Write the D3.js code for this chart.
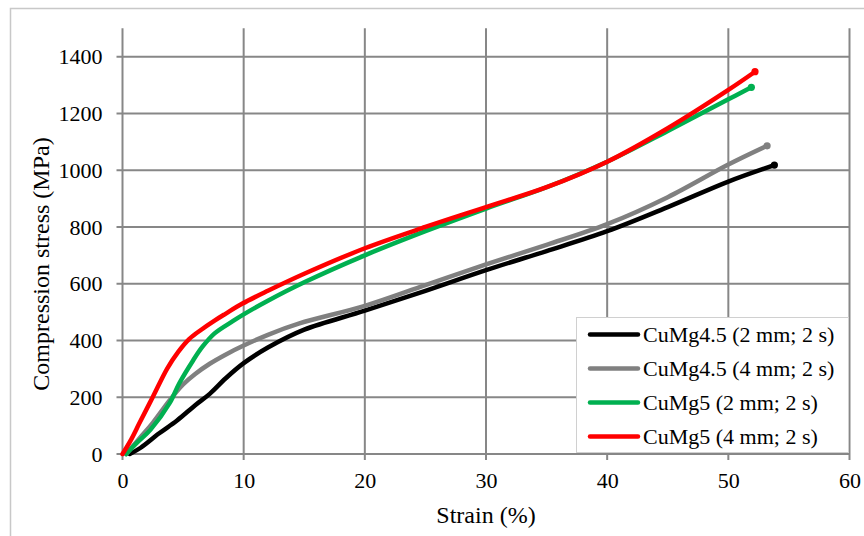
<!DOCTYPE html>
<html>
<head>
<meta charset="utf-8">
<script src="https://cdn.jsdelivr.net/npm/d3@7"></script>
<style>
  html, body { margin: 0; padding: 0; background: #fff; }
  svg { display: block; }
  text { font-family: "Liberation Serif", "Times New Roman", serif; fill: #000; }
</style>
</head>
<body>
<svg id="chart" width="864" height="536"></svg>
<script>
// ---- Data ----
const seriesNames = ["CuMg4.5 (2 mm; 2 s)", "CuMg4.5 (4 mm; 2 s)", "CuMg5 (2 mm; 2 s)", "CuMg5 (4 mm; 2 s)"];
const seriesColors = ["#000000", "#808080", "#00b050", "#ff0000"];

const strainBlack = [0.6, 1.5, 3, 4.5, 6, 7.2, 8.5, 10, 12, 15, 20, 25, 30, 35, 40, 45, 50, 53.8];
const stressBlack = [0, 22, 72, 118, 172, 212, 266, 320, 375, 438, 505, 575, 648, 715, 785, 870, 960, 1018];

const strainGray = [0.3, 1.5, 2.5, 3.9, 5, 6, 7.2, 8.5, 10, 12, 14.6, 20, 25, 30, 35, 40, 45, 50, 53.2];
const stressGray = [0, 60, 110, 190, 245, 282, 318, 350, 382, 420, 460, 522, 595, 668, 737, 810, 905, 1020, 1086];

const strainGreen = [0.3, 1.2, 2.3, 3.9, 4.7, 5.8, 6.6, 7.6, 9.1, 10, 12, 15, 20, 25, 30, 35, 40, 45, 50, 51.9];
const stressGreen = [0, 40, 85, 180, 250, 328, 378, 425, 468, 492, 540, 605, 700, 785, 865, 940, 1030, 1138, 1250, 1292];

const strainRed = [0, 0.7, 1.4, 2.5, 3.7, 4.6, 5.5, 6.5, 7.6, 8.5, 9.9, 12, 15, 20, 25, 30, 35, 40, 45, 50, 52.2];
const stressRed = [0, 50, 109, 201, 302, 360, 405, 438, 470, 494, 530, 575, 635, 725, 800, 870, 940, 1030, 1148, 1283, 1347];

const xTicks = [0, 10, 20, 30, 40, 50, 60];
const yTicks = [0, 200, 400, 600, 800, 1000, 1200, 1400];

const xTitle = "Strain (%)";
const yTitle = "Compression stress (MPa)";

// ---- Build series ----
const strains = [strainBlack, strainGray, strainGreen, strainRed];
const stresses = [stressBlack, stressGray, stressGreen, stressRed];
const series = seriesNames.map((name, i) => ({
  name, color: seriesColors[i],
  points: strains[i].map((x, j) => ({ x, y: stresses[i][j] }))
}));

// ---- Layout ----
const svg = d3.select("#chart");
const plot = { left: 122.5, right: 849.5, top: 28.3, bottom: 454 };

const x = d3.scaleLinear().domain([0, 60]).range([plot.left, plot.right]);
const y = d3.scaleLinear().domain([0, 1500]).range([plot.bottom, plot.top]);

// outer chart border
svg.append("rect")
  .attr("x", 10.5).attr("y", 8.5).attr("width", 900).attr("height", 600)
  .attr("fill", "#fff").attr("stroke", "#c8c8c8").attr("stroke-width", 1.5);

const gridColor = "#878787";

// vertical gridlines (incl. outward tick marks)
svg.append("g").selectAll("line").data(xTicks).join("line")
  .attr("x1", d => x(d)).attr("x2", d => x(d))
  .attr("y1", plot.top).attr("y2", plot.bottom + 6)
  .attr("stroke", gridColor).attr("stroke-width", 2);

// horizontal gridlines (incl. outward tick marks)
svg.append("g").selectAll("line").data(yTicks).join("line")
  .attr("x1", plot.left - 6).attr("x2", plot.right)
  .attr("y1", d => y(d)).attr("y2", d => y(d))
  .attr("stroke", gridColor).attr("stroke-width", 2);

// axes with D3 (labels only; lines drawn above)
const xAxis = svg.append("g")
  .attr("transform", `translate(0,${plot.bottom})`)
  .call(d3.axisBottom(x).tickValues(xTicks).tickSize(0).tickPadding(18).tickFormat(d3.format("d")));
xAxis.select(".domain").remove();
xAxis.selectAll("text").style("font-size", "22px").style("font-family", "Liberation Serif");

const yAxis = svg.append("g")
  .attr("transform", `translate(${plot.left},0)`)
  .call(d3.axisLeft(y).tickValues(yTicks).tickSize(0).tickPadding(20).tickFormat(d3.format("d")));
yAxis.select(".domain").remove();
yAxis.selectAll("text").style("font-size", "22px").style("font-family", "Liberation Serif");

// axis titles
svg.append("text")
  .attr("x", 486).attr("y", 523)
  .attr("text-anchor", "middle")
  .style("font-size", "24px")
  .text(xTitle);

svg.append("text")
  .attr("transform", "translate(49,264) rotate(-90)")
  .attr("text-anchor", "middle")
  .style("font-size", "24px")
  .text(yTitle);

// series lines
const line = d3.line().x(d => x(d.x)).y(d => y(d.y)).curve(d3.curveCatmullRom.alpha(0.5));

const gSeries = svg.append("g");
series.forEach(s => {
  gSeries.append("path")
    .datum(s.points)
    .attr("d", line)
    .attr("fill", "none")
    .attr("stroke", s.color)
    .attr("stroke-width", 4.5)
    .attr("stroke-linecap", "round")
    .attr("stroke-linejoin", "round");
  const last = s.points[s.points.length - 1];
  gSeries.append("circle")
    .attr("cx", x(last.x)).attr("cy", y(last.y)).attr("r", 3.6)
    .attr("fill", s.color);
});

// legend
const legend = svg.append("g");
legend.append("rect")
  .attr("x", 576.5).attr("y", 317.5).attr("width", 272).attr("height", 135)
  .attr("fill", "#fff").attr("stroke", "#d0d0d0").attr("stroke-width", 1);

series.forEach((s, i) => {
  const cy = 334.5 + i * 34;
  legend.append("line")
    .attr("x1", 590).attr("x2", 638)
    .attr("y1", cy).attr("y2", cy)
    .attr("stroke", s.color).attr("stroke-width", 4.5)
    .attr("stroke-linecap", "round");
  legend.append("text")
    .attr("x", 643).attr("y", cy)
    .attr("dy", "0.35em")
    .style("font-size", "22px")
    .text(s.name);
});
</script>
</body>
</html>
